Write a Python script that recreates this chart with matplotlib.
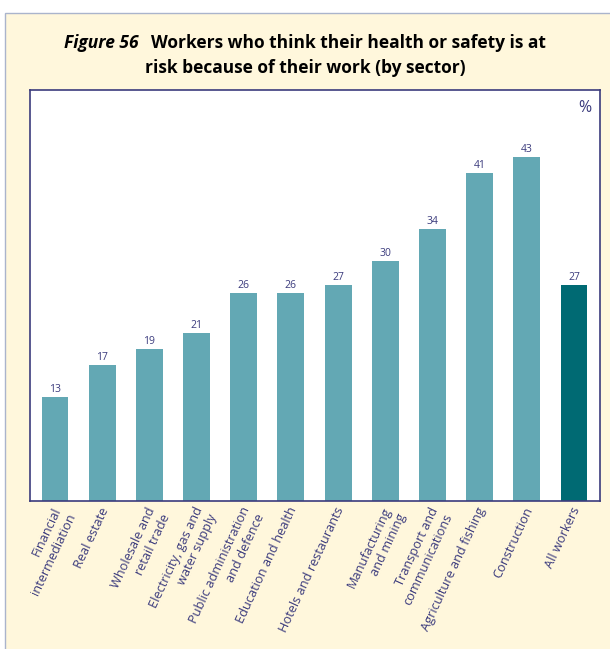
import numpy as np
import matplotlib
matplotlib.use('Agg')
import matplotlib.pyplot as plt
import matplotlib.transforms as mtransforms
from matplotlib.patches import Rectangle

plt.rcParams['font.family'] = ['Open Sans', 'DejaVu Sans']

# Data
sectors = ['Financial\nintermediation', 'Real estate', 'Wholesale and\nretail trade',
           'Electricity, gas and\nwater supply', 'Public administration\nand defence',
           'Education and health', 'Hotels and restaurants', 'Manufacturing\nand mining',
           'Transport and\ncommunications', 'Agriculture and fishing', 'Construction',
           'All workers']
values = [13, 17, 19, 21, 26, 26, 27, 30, 34, 41, 43, 27]

navy = '#3b3b7d'
bar_col = '#63a8b4'
total_col = '#006a73'
cream = '#fff7dc'

W, H = 610, 649
fig = plt.figure(figsize=(W / 100, H / 100), dpi=100, facecolor='white')

# cream panel behind everything
fig.patches.append(Rectangle((5 / W, -0.01), 1.1, (H - 13) / H + 0.01,
                             transform=fig.transFigure, facecolor=cream,
                             edgecolor='#aab4cc', linewidth=1.0, zorder=-5))

ax = fig.add_axes([30 / W, 1 - 501 / H, 570 / W, 411 / H])
ax.set_facecolor('white')

x = np.arange(len(values))
colors = [bar_col] * (len(values) - 1) + [total_col]
ax.bar(x, values, width=0.57, color=colors, zorder=2)

for xi, v in zip(x, values):
    ax.text(xi, v + 0.3, str(v), ha='center', va='bottom', fontsize=7.5, color=navy)

ax.set_xlim(-0.53, len(values) - 0.45)
ax.set_ylim(0, 51.4)
ax.set_yticks([])
ax.set_xticks(x)
ax.set_xticklabels(sectors, rotation=65, ha='right', rotation_mode='anchor',
                   fontsize=9.2, color=navy, multialignment='right', linespacing=1.25)
ax.tick_params(axis='x', length=0, pad=3)
shift = mtransforms.ScaledTranslation(-3 / 100, 0, fig.dpi_scale_trans)
for lab in ax.get_xticklabels():
    lab.set_transform(lab.get_transform() + shift)
for s in ax.spines.values():
    s.set_color(navy)
    s.set_linewidth(1.2)

ax.text(0.985, 0.975, '%', transform=ax.transAxes, ha='right', va='top',
        fontsize=11.5, color=navy)

# title: italic "Figure 56" followed by bold text
fs = 12.5
t1 = fig.text(0, 1 - 48 / H, 'Figure 56', fontsize=fs, fontweight='bold',
              fontstyle='italic', va='baseline', ha='left')
t2 = fig.text(0, 1 - 48 / H, 'Workers who think their health or safety is at',
              fontsize=fs, fontweight='bold', va='baseline', ha='left')
fig.canvas.draw()
r = fig.canvas.get_renderer()
w1 = t1.get_window_extent(r).width
w2 = t2.get_window_extent(r).width
gap = 12
start = (W - (w1 + gap + w2)) / 2
t1.set_x(start / W)
t2.set_x((start + w1 + gap) / W)
fig.text(0.5, 1 - 73 / H, 'risk because of their work (by sector)', fontsize=fs,
         fontweight='bold', va='baseline', ha='center')

fig.savefig('out.png', dpi=100, facecolor=fig.get_facecolor())
